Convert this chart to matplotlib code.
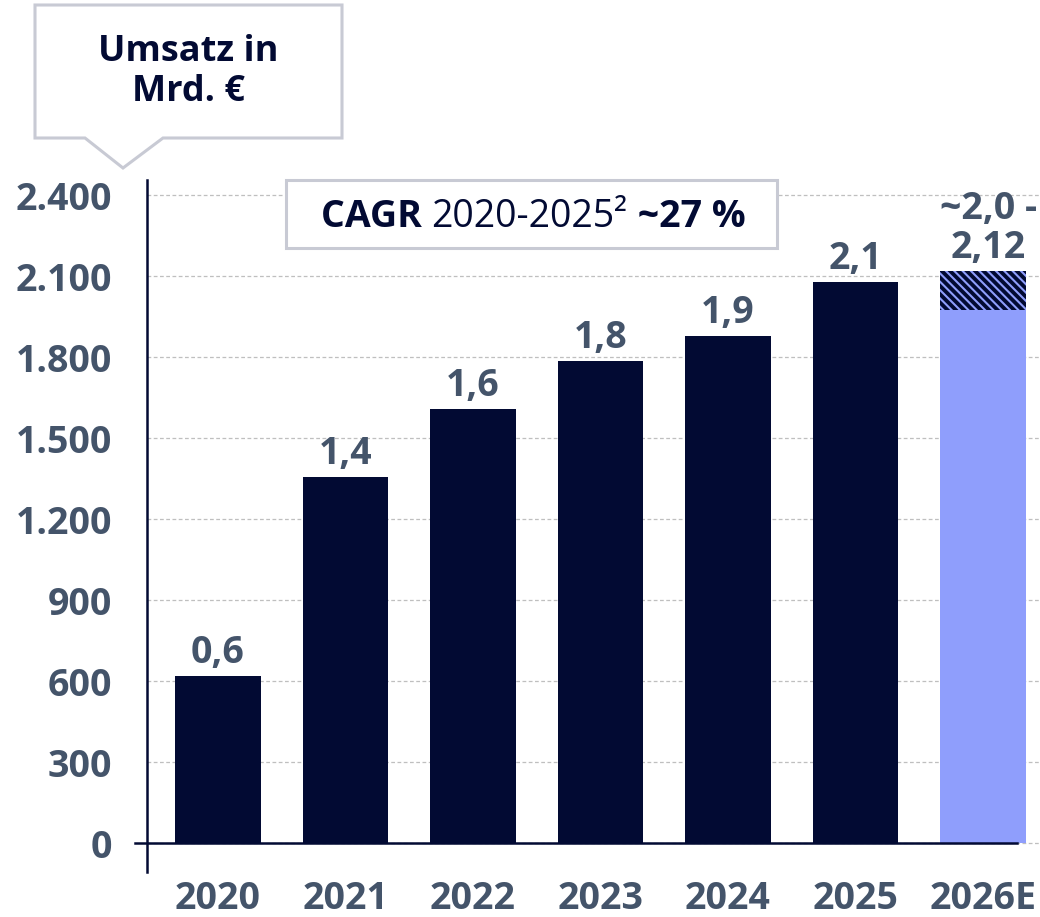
import matplotlib.pyplot as plt
from matplotlib.patches import Polygon, Rectangle

plt.rcParams['font.family'] = ['Open Sans', 'DejaVu Sans']
plt.rcParams['hatch.linewidth'] = 1.5

years = ['2020', '2021', '2022', '2023', '2024', '2025', '2026E']
umsatz = [620, 1355, 1607, 1785, 1878, 2078]
labels = ['0,6', '1,4', '1,6', '1,8', '1,9', '2,1']
forecast_low = 1975
forecast_high = 2118
forecast_label = '~2,0 -\n2,12'
yticks = [0, 300, 600, 900, 1200, 1500, 1800, 2100, 2400]

navy = '#020a33'
light = '#8f9efc'
grey_text = '#44546a'
box_edge = '#c8cad4'

W, H = 1040, 917
fig = plt.figure(figsize=(W / 100, H / 100), dpi=100)
ax = fig.add_axes([147 / W, 45 / H, (W - 147) / W, (872 - 180) / H])


def px(x, y):
    return (x / W, 1 - y / H)


x = list(range(len(years)))
ax.bar(x[:6], umsatz, width=0.667, color=navy, zorder=3)
ax.bar(x[6], forecast_low, width=0.667, color=light, zorder=3)
ax.bar(x[6], forecast_high - forecast_low, bottom=forecast_low, width=0.667,
       facecolor=navy, edgecolor=light, hatch='\\\\\\\\', linewidth=0, zorder=3)

for i, v in enumerate(umsatz):
    ax.annotate(labels[i], (i, v), xytext=(0, 3), textcoords='offset points',
                ha='center', va='bottom', fontsize=27, fontweight='bold',
                color=grey_text)
ax.annotate(forecast_label, (6, forecast_high), xytext=(4, 3),
            textcoords='offset points', ha='center', va='bottom',
            fontsize=27, fontweight='bold', color=grey_text,
            linespacing=1.05, annotation_clip=False)

ax.set_xlim(-0.557, 6.447)
ax.set_ylim(-107, 2456)
ax.set_yticks(yticks)
ax.set_yticklabels([f'{t:,}'.replace(',', '.') for t in yticks])
ax.set_xticks(x)
ax.set_xticklabels(years)
ax.tick_params(axis='y', length=0, pad=25, labelsize=27, labelcolor=grey_text)
ax.tick_params(axis='x', length=0, pad=6, labelsize=27, labelcolor=grey_text)
for lab in ax.get_xticklabels() + ax.get_yticklabels():
    lab.set_fontweight('bold')

ax.yaxis.grid(True, linestyle=(0, (3, 2)), color='#bfbfbf', linewidth=0.9, zorder=0)
ax.set_axisbelow(True)
for s in ['top', 'right', 'bottom']:
    ax.spines[s].set_visible(False)
ax.spines['left'].set_color(navy)
ax.spines['left'].set_linewidth(1.8)
ax.axhline(0, xmin=-12 / 893, xmax=(1017 - 147) / 893, color=navy,
           linewidth=1.8, clip_on=False, zorder=4)

# callout "Umsatz in Mrd. €"
callout = Polygon([px(35, 5), px(342, 5), px(342, 138), px(163, 138),
                   px(123, 168), px(85, 138), px(35, 138)],
                  closed=True, transform=fig.transFigure, facecolor='white',
                  edgecolor=box_edge, linewidth=2.2)
fig.patches.append(callout)
fig.text(*px(188, 72), 'Umsatz in\nMrd. €', ha='center', va='center',
         fontsize=26, fontweight='bold', color=navy, linespacing=1.15)

# CAGR box
x0, y0 = px(286, 248)
x1, y1 = px(777, 180)
fig.patches.append(Rectangle((x0, y0), x1 - x0, y1 - y0, transform=fig.transFigure,
                             facecolor='white', edgecolor=box_edge, linewidth=2.2,
                             zorder=5))
parts = [('CAGR ', 'bold'), ('2020-2025²', 'normal'), (' ~27 %', 'bold')]
texts = []
for s, w in parts:
    texts.append(fig.text(0, 1 - 227 / H, s, ha='left', va='baseline', fontsize=27,
                          fontweight=w, color=navy, zorder=6))
fig.canvas.draw()
r = fig.canvas.get_renderer()
widths = [t.get_window_extent(r).width for t in texts]
start = 533 - sum(widths) / 2
for t, w in zip(texts, widths):
    t.set_x(start / W)
    start += w

fig.savefig('out.png', dpi=100)
